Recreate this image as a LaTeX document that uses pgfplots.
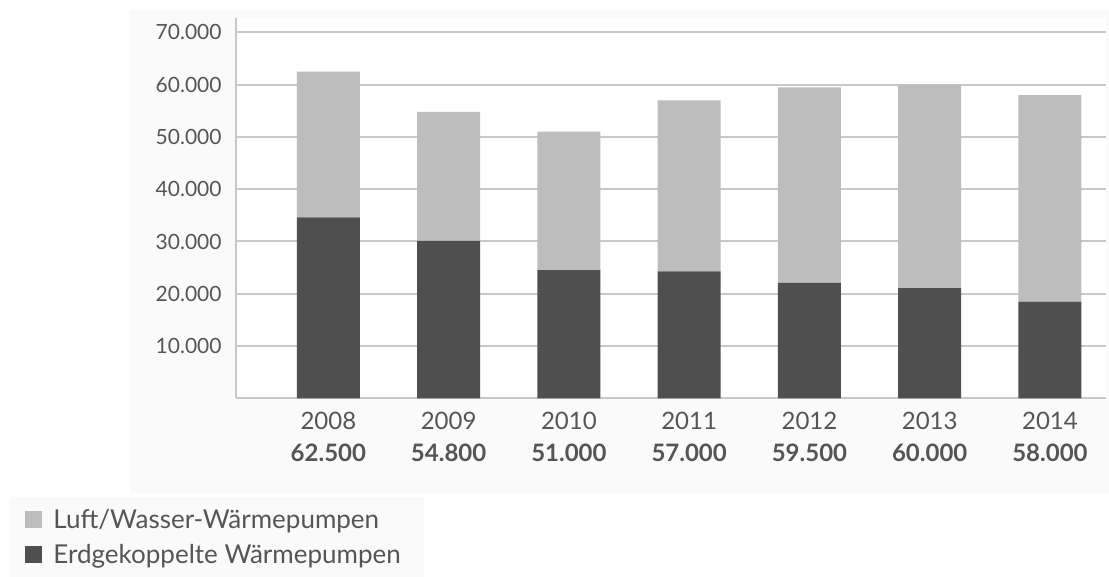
\documentclass[border=0pt]{standalone}
\usepackage{pgfplots}
\pgfplotsset{compat=1.18}
\usepackage{fontspec}
\setmainfont{Lato}
\definecolor{lightbar}{HTML}{BDBDBD}
\definecolor{darkbar}{HTML}{4F4F4F}
\definecolor{gridc}{HTML}{C8C8C8}
\definecolor{txt}{HTML}{555555}
\definecolor{bgc}{HTML}{FAFAFA}
\begin{document}
\begin{tikzpicture}
\path[use as bounding box] (0,0) rectangle (554.5pt,288.5pt);
\fill[bgc] (65pt,42pt) rectangle (554.5pt,283.5pt);
\fill[bgc] (5pt,0pt) rectangle (212pt,40pt);
\begin{axis}[
  at={(118pt,89.35pt)}, anchor=south west,
  scale only axis, width=435pt, height=190pt,
  ybar stacked, bar width=31.5pt,
  xmin=-0.768, xmax=6.466, ymin=0, ymax=72700,
  scaled y ticks=false,
  axis background/.style={fill=white},
  axis x line*=bottom, axis y line*=left,
  x axis line style={draw=gridc, line width=1pt},
  y axis line style={draw=gridc, line width=1pt},
  xtick={0,...,6},
  xticklabels={{2008\\\textbf{62.500}},{2009\\\textbf{54.800}},{2010\\\textbf{51.000}},{2011\\\textbf{57.000}},{2012\\\textbf{59.500}},{2013\\\textbf{60.000}},{2014\\\textbf{58.000}}},
  xticklabel style={align=center, font=\fontsize{12pt}{16pt}\selectfont, text=txt, inner sep=0pt, yshift=-6.5pt},
  ytick={10000,20000,30000,40000,50000,60000,70000},
  yticklabels={10.000,20.000,30.000,40.000,50.000,60.000,70.000},
  yticklabel style={font=\fontsize{10.5pt}{12pt}\selectfont, text=txt, inner sep=0pt, xshift=-7pt},
  major tick length=0pt,
  ymajorgrids, grid style={draw=gridc, line width=1pt},
  legend style={at={(-0.2425,-0.29)}, anchor=north west, draw=none, fill=none,
    font=\fontsize{13pt}{15pt}\selectfont, text=txt, row sep=6.5pt, inner sep=0pt,
    nodes={inner sep=0pt}},
  legend cell align=left,
  reverse legend,
  legend image code/.code={\fill[#1] (0pt,-4pt) rectangle (8.5pt,4.5pt); \path[draw=none,fill=none] (0pt,0pt) -- (14pt,0pt);},
]
\addplot[fill=darkbar, draw=none] coordinates {(0,34600) (1,30100) (2,24500) (3,24300) (4,22100) (5,21100) (6,18500)};
\addplot[fill=lightbar, draw=none] coordinates {(0,27900) (1,24700) (2,26500) (3,32700) (4,37400) (5,38900) (6,39500)};
\legend{Erdgekoppelte Wärmepumpen, Luft/Wasser-Wärmepumpen}
\end{axis}
\end{tikzpicture}
\end{document}
